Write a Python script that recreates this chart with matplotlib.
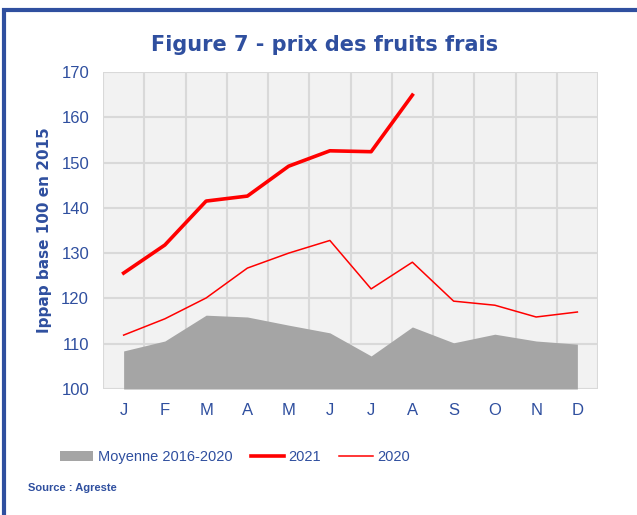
import numpy as np
import matplotlib.pyplot as plt
from matplotlib.patches import Rectangle, Patch
from matplotlib.lines import Line2D

months = ['J', 'F', 'M', 'A', 'M', 'J', 'J', 'A', 'S', 'O', 'N', 'D']
moyenne = [108.4, 110.6, 116.3, 115.9, 114.1, 112.4, 107.3, 113.7, 110.2, 112.1, 110.6, 109.9]
prix_2021 = [125.6, 131.8, 141.5, 142.6, 149.2, 152.6, 152.4, 164.9]
prix_2020 = [111.9, 115.5, 120.1, 126.7, 130.0, 132.8, 122.1, 128.0, 119.4, 118.5, 115.9, 117.0]

blue = '#2F4F9F'
font = 'Liberation Sans'

fig = plt.figure(figsize=(6.37, 5.15), dpi=100)
fig.patches.append(Rectangle((0.006, -0.05), 1.2, 1.03, transform=fig.transFigure,
                             fill=False, edgecolor=blue, linewidth=3))

ax = fig.add_axes([103 / 637, 1 - 389 / 515, 495 / 637, 317 / 515])
ax.set_facecolor('#F2F2F2')
x = np.arange(len(months))
ax.fill_between(x, 100, moyenne, color='#A5A5A5', linewidth=0, zorder=2)
ax.plot(x[:len(prix_2021)], prix_2021, color='#FF0000', linewidth=2.6, zorder=3)
ax.plot(x, prix_2020, color='#FF0000', linewidth=1.1, zorder=3)

ax.set_xlim(-0.5, 11.5)
ax.set_ylim(100, 170)
ax.set_yticks(np.arange(100, 171, 10))
ax.set_xticks(x)
ax.set_xticklabels(months)
ax.set_xticks(np.arange(-0.5, 12, 1), minor=True)
ax.grid(True, which='major', axis='y', color='#D9D9D9', linewidth=1.5, zorder=1)
ax.grid(True, which='minor', axis='x', color='#D9D9D9', linewidth=1.5, zorder=1)
ax.set_axisbelow(True)
for s in ax.spines.values():
    s.set_visible(False)
ax.tick_params(which='both', length=0, labelsize=12, labelcolor=blue)
ax.tick_params(axis='x', pad=10)
ax.tick_params(axis='y', pad=10)
for lab in ax.get_xticklabels() + ax.get_yticklabels():
    lab.set_fontfamily(font)

ax.set_ylabel('Ippap base 100 en 2015', fontsize=11, fontweight='bold', color=blue, labelpad=7)
fig.text(0.51, 1 - 45 / 515, 'Figure 7 - prix des fruits frais', ha='center', va='center',
         fontsize=15, fontweight='bold', color=blue)

handles = [Patch(facecolor='#A5A5A5', edgecolor='none'),
           Line2D([], [], color='#FF0000', linewidth=2.6),
           Line2D([], [], color='#FF0000', linewidth=1.1)]
fig.legend(handles, ['Moyenne 2016-2020', '2021', '2020'], loc='center',
           bbox_to_anchor=(0.369, 1 - 457 / 515), ncol=3, frameon=False,
           prop={'family': font, 'size': 10.5}, labelcolor=blue,
           handlelength=2.3, columnspacing=1.25, handletextpad=0.3)
fig.text(28 / 637, 1 - 488 / 515, 'Source : Agreste', fontsize=8, fontweight='bold',
         color=blue, fontfamily=font, va='center')

fig.savefig('out.png', dpi=100)
